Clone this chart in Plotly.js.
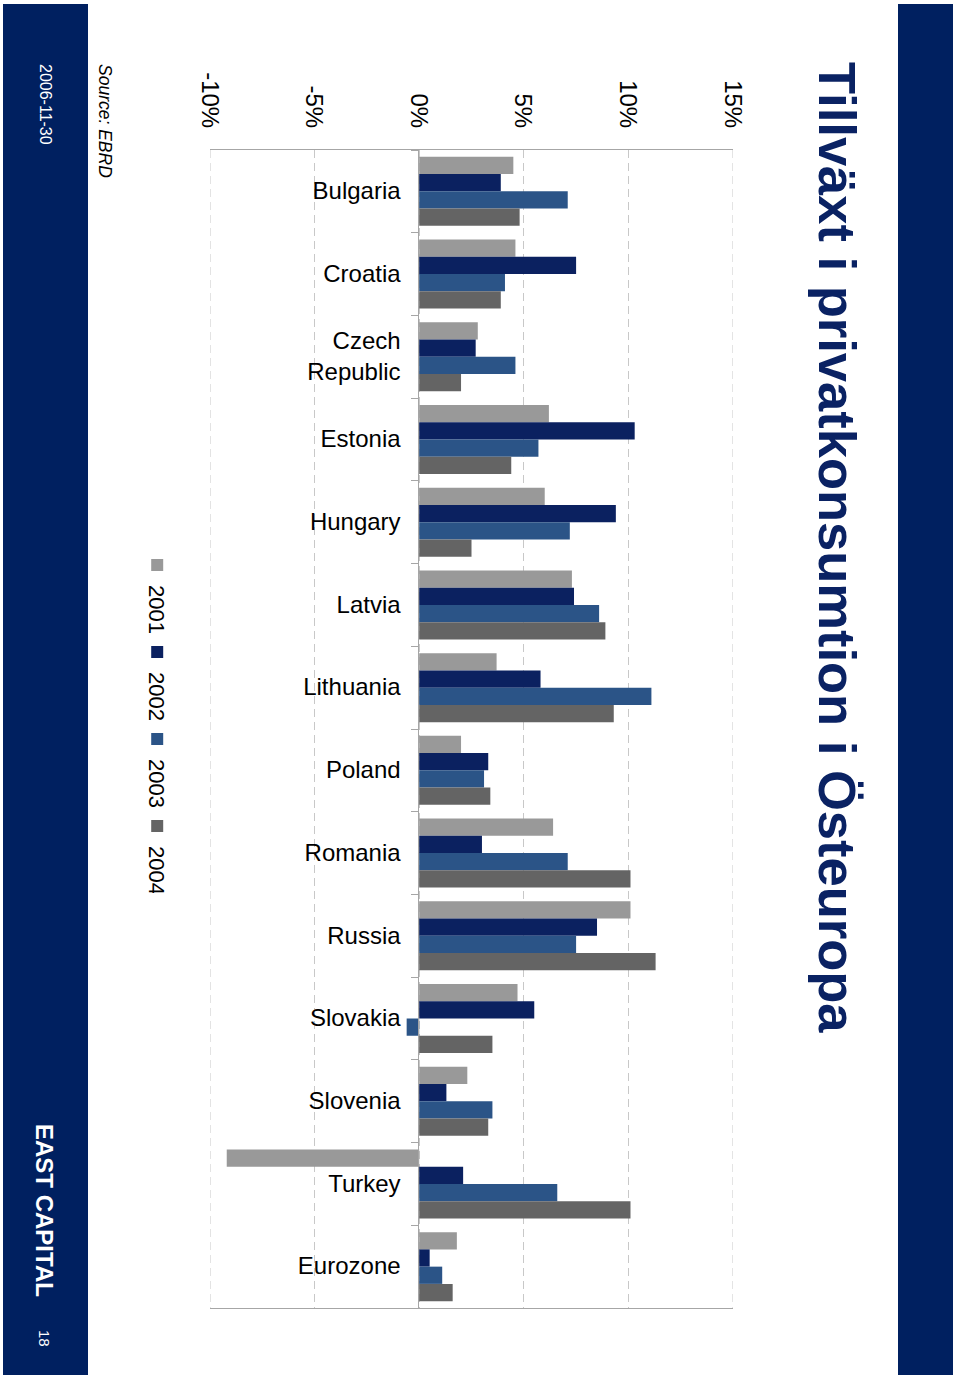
<!DOCTYPE html>
<html><head><meta charset="utf-8">
<script src="https://cdn.plot.ly/plotly-3.0.1.min.js"></script>
<style>
html,body{margin:0;padding:0;width:960px;height:1379px;overflow:hidden;background:#fff;}
#wrap{position:absolute;left:0;top:0;width:1379px;height:960px;transform-origin:0 0;transform:translateX(960px) rotate(90deg);}
#chart{width:1379px;height:960px;}
</style></head><body>
<div id="wrap"><div id="chart"></div></div>
<script>
// ---- data ----
const categories = ['Bulgaria','Croatia','Czech<br>Republic','Estonia','Hungary','Latvia','Lithuania','Poland','Romania','Russia','Slovakia','Slovenia','Turkey','Eurozone'];
const seriesNames = ['2001','2002','2003','2004'];
const v2001 = [4.5, 4.6, 2.8, 6.2, 6.0, 7.3, 3.7, 2.0, 6.4, 10.1, 4.7, 2.3, -9.2, 1.8];
const v2002 = [3.9, 7.5, 2.7, 10.3, 9.4, 7.4, 5.8, 3.3, 3.0, 8.5, 5.5, 1.3, 2.1, 0.5];
const v2003 = [7.1, 4.1, 4.6, 5.7, 7.2, 8.6, 11.1, 3.1, 7.1, 7.5, -0.6, 3.5, 6.6, 1.1];
const v2004 = [4.8, 3.9, 2.0, 4.4, 2.5, 8.9, 9.3, 3.4, 10.1, 11.3, 3.5, 3.3, 10.1, 1.6];
const valueTickVals = [-10, -5, 0, 5, 10, 15];
const valueTickText = ['-10%', '-5%', '0%', '5%', '10%', '15%'];
const titleText = 'Tillväxt i privatkonsumtion i Östeuropa';
const sourceText = 'Source: EBRD';
const dateText = '2006-11-30';
const brandText = 'EAST CAPITAL';
const pageText = '18';

// ---- styles ----
const seriesValues = [v2001, v2002, v2003, v2004];
const seriesColors = ['#999999', '#0b2160', '#2b5487', '#646464'];
const FONT = 'Liberation Sans, Arial, Helvetica, sans-serif';
const NAVY = '#002060';
const GRID = '#c8c8c8';
const GRIDDASH = '8px,5px';
const W = 1379, H = 960, ML = 150, MR = 71, MT = 227, MB = 210;
const PW = W - ML - MR, PH = H - MT - MB;
const px = x => (x - ML) / PW;
const py = y => 1 - (y - MT) / PH;

const traces = seriesNames.map((name, i) => ({
  type: 'bar', name: name, x: categories, y: seriesValues[i],
  marker: {color: seriesColors[i], line: {width: 0}},
  hoverinfo: 'skip'
}));

// dashed gridlines at the two ends of the value range (Plotly omits them at the edges)
const edgeVals = [valueTickVals[0], valueTickVals[valueTickVals.length - 1]];
const edgeGrid = edgeVals.map(v => ({
  type: 'line', xref: 'paper', yref: 'y', x0: 0, x1: 1, y0: v, y1: v,
  line: {color: GRID, width: 1, dash: GRIDDASH}, layer: 'below'
}));

const layout = {
  width: W, height: H,
  margin: {l: ML, r: MR, t: MT, b: MB},
  paper_bgcolor: 'rgba(0,0,0,0)', plot_bgcolor: 'rgba(0,0,0,0)',
  font: {family: FONT, color: '#000'},
  barmode: 'group', bargap: 0.166, bargroupgap: 0,
  title: {
    text: titleText,
    font: {family: FONT, size: 52.5, color: '#0a2263', weight: 'bold'},
    xref: 'container', x: 62 / W, xanchor: 'left',
    yref: 'container', y: 1 - 123 / H, yanchor: 'middle'
  },
  xaxis: {
    type: 'category', anchor: 'free', position: 0.4,
    showline: true, linecolor: '#a6a6a6', linewidth: 1,
    ticks: 'outside', ticklen: 7, tickcolor: '#a6a6a6', tickson: 'boundaries',
    tickangle: -90, ticklabelstandoff: 8,
    tickfont: {family: FONT, size: 24, color: '#000'},
    showgrid: false, zeroline: false, fixedrange: true
  },
  yaxis: {
    range: [-10, 15], tickvals: valueTickVals, ticktext: valueTickText,
    tickfont: {family: FONT, size: 24, color: '#000'},
    showgrid: true, gridcolor: GRID, gridwidth: 1, griddash: GRIDDASH,
    showline: true, mirror: true, linecolor: '#a6a6a6', linewidth: 1,
    zeroline: false, ticks: '', ticklabelstandoff: 16, fixedrange: true
  },
  legend: {
    orientation: 'h', x: px(545), xanchor: 'left', y: py(803), yanchor: 'middle',
    entrywidth: 42, entrywidthmode: 'pixels',
    font: {family: FONT, size: 22, color: '#000'},
    bgcolor: 'rgba(0,0,0,0)', borderwidth: 0, traceorder: 'normal'
  },
  shapes: [
    {type: 'rect', xref: 'paper', yref: 'paper', layer: 'below',
     x0: px(4), x1: px(1375), y0: py(7), y1: py(62), fillcolor: NAVY, line: {width: 0}},
    {type: 'rect', xref: 'paper', yref: 'paper', layer: 'below',
     x0: px(4), x1: px(1375), y0: py(872), y1: py(957), fillcolor: NAVY, line: {width: 0}}
  ].concat(edgeGrid),
  annotations: [
    {text: dateText, xref: 'paper', yref: 'paper', x: px(62), y: py(914), xanchor: 'left', yanchor: 'middle',
     showarrow: false, font: {family: FONT, size: 16, color: '#fff'}},
    {text: brandText, xref: 'paper', yref: 'paper', x: px(1122), y: py(915), xanchor: 'left', yanchor: 'middle',
     showarrow: false, font: {family: FONT, size: 24, color: '#fff', weight: 'bold'}},
    {text: pageText, xref: 'paper', yref: 'paper', x: px(1328), y: py(915), xanchor: 'left', yanchor: 'middle',
     showarrow: false, font: {family: FONT, size: 15, color: '#fff'}},
    {text: sourceText, xref: 'paper', yref: 'paper', x: px(62), y: py(855), xanchor: 'left', yanchor: 'middle',
     showarrow: false, font: {family: FONT, size: 17.5, color: '#000', style: 'italic'}}
  ]
};

Plotly.newPlot('chart', traces, layout, {displayModeBar: false, staticPlot: true});
</script>
</body></html>
